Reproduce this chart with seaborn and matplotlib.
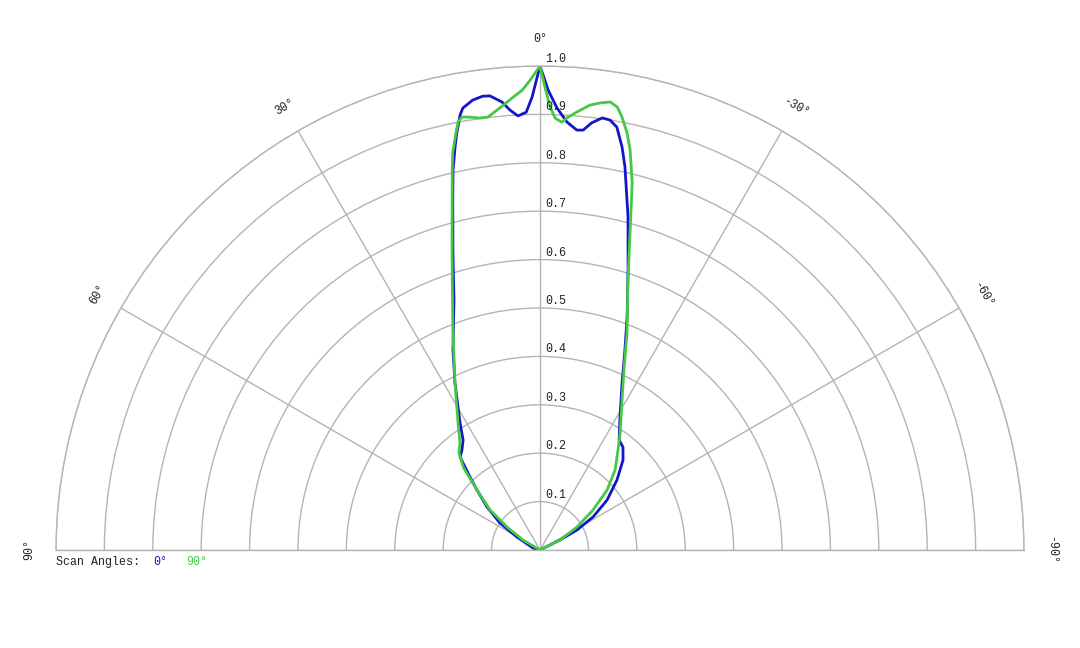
import numpy as np
import pandas as pd
import matplotlib
matplotlib.use("Agg")
import matplotlib.pyplot as plt
import seaborn as sns

# beam pattern, angle in degrees (0 = up, positive = left), normalised level
blue_theta = [-90, -63.4, -61.6, -58.1, -53.3, -47.7, -42.7, -38.9, -35.7, -31.0,
              -26.2, -23.0, -20.5, -17.3, -14.8, -12.5, -11.5, -10.3, -9.25, -8.2,
              -6.9, -5.85, -5.0, -3.6, -2.2, -1.0, 0, 1.0, 1.8, 2.9,
              3.9, 4.85, 6.3, 7.2, 8.5, 9.9, 10.4, 11.3, 11.9, 12.9,
              14.0, 16.2, 19.0, 23.5, 27.0, 32.2, 35.0, 38.0, 40.7, 43.8,
              46.4, 50.9, 56.0, 60.5, 74, 90]
blue_r = [0, .046, .087, .129, .173, .215, .253, .273, .280, .321,
          .384, .449, .514, .612, .712, .811, .850, .888, .900, .902,
          .889, .872, .871, .886, .914, .951, 1.0, .936, .905, .898,
          .911, .929, .944, .945, .940, .927, .914, .878, .851, .805,
          .745, .645, .546, .451, .387, .310, .277, .262, .253, .209,
          .180, .141, .100, .055, .015, 0]

green_theta = [-90, -63.4, -58.1, -53.0, -48.2, -43.15, -37.95, -34.4, -28.7, -24.7,
               -21.85, -18.2, -15.85, -14.1, -12.7, -11.8, -10.7, -9.9, -8.9, -7.65,
               -6.4, -4.8, -3.7, -2.9, -2.0, -1.3, -0.6, 0, 1.2, 2.2,
               3.5, 5.2, 6.85, 7.9, 9.2, 10.2, 10.85, 11.6, 12.4, 13.0,
               16.35, 21.6, 27.0, 32.85, 36.8, 39.9, 42.9, 46.4, 51.3, 55.1,
               59.5, 90]
green_r = [0, .046, .090, .137, .186, .227, .262, .293, .353, .416,
           .483, .581, .681, .782, .847, .880, .911, .929, .937, .932,
           .925, .908, .896, .885, .893, .916, .957, 1.0, .971, .951,
           .936, .917, .901, .901, .906, .909, .900, .871, .840, .806,
           .646, .489, .387, .312, .276, .261, .232, .180, .132, .083,
           .041, 0]

scan_labels = ["0°", "90°"]
ring_values = [0.1, 0.2, 0.3, 0.4, 0.5, 0.6, 0.7, 0.8, 0.9, 1.0]
angle_ticks = [90, 60, 30, 0, -30, -60, -90]

colors = {"0°": "#1414c8", "90°": "#46c846"}
grid_col = "#b4b4b4"

sns.set_style("white")
plt.rcParams["font.family"] = ["Liberation Mono", "DejaVu Sans Mono"]
mono_size = 8.4

df = pd.concat([
    pd.DataFrame({"theta": np.radians(blue_theta), "r": blue_r, "scan": scan_labels[0]}),
    pd.DataFrame({"theta": np.radians(green_theta), "r": green_r, "scan": scan_labels[1]}),
], ignore_index=True)

W, H = 1080, 648
fig = plt.figure(figsize=(W / 100, H / 100), dpi=100)
# polar half-wedge sits in a square box; size it so the circle centre lands
# at (540, 550) px with radius 484 px
side = 968
box_top = 550 - 484 - side / 4
ax = fig.add_axes([56 / W, (H - box_top - side) / H, side / W, side / H],
                  projection="polar")
ax.set_theta_zero_location("N")
ax.set_theta_direction(1)
ax.set_thetamin(-90)
ax.set_thetamax(90)
ax.set_ylim(0, 1)

ax.set_yticks(ring_values)
ax.set_yticklabels([])
ax.set_xticks(np.radians(angle_ticks))
ax.set_xticklabels([])
ax.grid(True, color=grid_col, lw=1.0)
for sp in ax.spines.values():
    sp.set_color(grid_col)
    sp.set_linewidth(1.0)

sns.lineplot(data=df, x="theta", y="r", hue="scan", palette=colors,
             sort=False, estimator=None, legend=False, lw=2.0, ax=ax)
ax.set_xlabel("")
ax.set_ylabel("")

# ring labels along the 0° ray
for v in ring_values:
    ax.annotate(f"{v:.1f}", xy=(0, v), xytext=(5, 1), textcoords="offset pixels",
                ha="left", va="bottom", fontsize=mono_size, color="#222222")

# angle labels round the outside
for a in angle_ticks:
    ax.text(np.radians(a), 1.056, f"{a}°", rotation=a, rotation_mode="anchor",
            ha="center", va="center", fontsize=mono_size, color="#222222")

# legend line
ly = 1 - 562 / H
fig.text(56 / W, ly, "Scan Angles:", ha="left", va="center",
         fontsize=mono_size, color="#222222")
fig.text(153 / W, ly, scan_labels[0], ha="left", va="center",
         fontsize=mono_size, color=colors["0°"])
fig.text(186 / W, ly, scan_labels[1], ha="left", va="center",
         fontsize=mono_size, color=colors["90°"])

fig.savefig("out.png", dpi=100)
